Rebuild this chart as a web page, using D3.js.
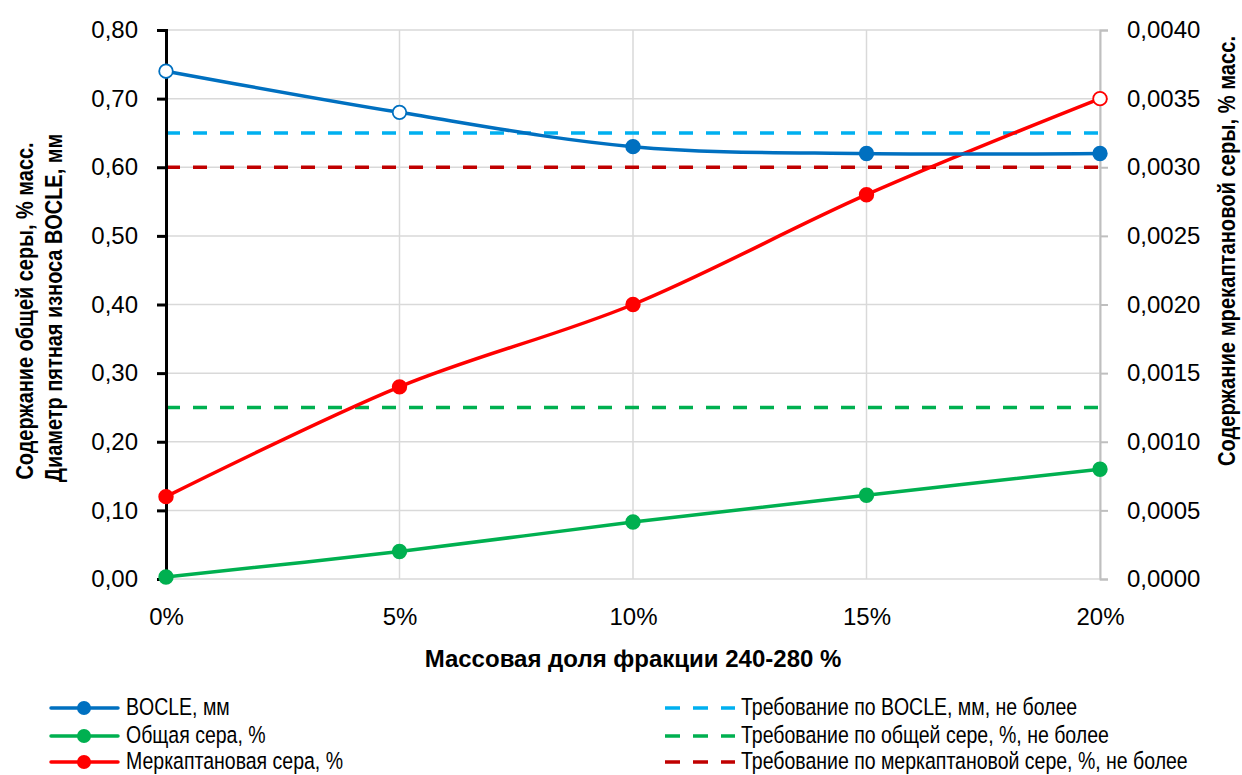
<!DOCTYPE html>
<html><head><meta charset="utf-8">
<script src="https://cdn.jsdelivr.net/npm/d3@7"></script>
<style>
html,body{margin:0;padding:0;background:#fff;}
svg{display:block;font-family:"Liberation Sans",Arial,sans-serif;}
</style></head><body>
<svg id="c" width="1242" height="775"></svg>
<script>
const categories = ["0%","5%","10%","15%","20%"];
const bocle = [0.74, 0.68, 0.63, 0.62, 0.62];
const totalSulfur = [0.003, 0.04, 0.083, 0.122, 0.16];
const mercaptanSulfur = [0.0006, 0.0014, 0.0020, 0.0028, 0.0035];
const bocleHollow = [true, true, false, false, false];
const mercHollow = [false, false, false, false, true];
const sulfurHollow = [false, false, false, false, false];
const reqBocle = 0.65, reqTotal = 0.25, reqMerc = 0.003;
const leftTicks = [0,0.1,0.2,0.3,0.4,0.5,0.6,0.7,0.8];
const rightTicks = [0,0.0005,0.001,0.0015,0.002,0.0025,0.003,0.0035,0.004];

const svg = d3.select("#c");
const L = 166, R = 1100, T = 30, B = 579;
const x = d3.scalePoint().domain(categories).range([L, R]);
const yL = d3.scaleLinear().domain([0, 0.8]).range([B, T]);
const yR = d3.scaleLinear().domain([0, 0.004]).range([B, T]);
const fmtL = v => d3.format(".2f")(v).replace(".", ",");
const fmtR = v => d3.format(".4f")(v).replace(".", ",");

// grid
const g = svg.append("g");
g.selectAll("line.h").data(leftTicks).join("line")
  .attr("x1", L).attr("x2", R).attr("y1", d => yL(d)).attr("y2", d => yL(d))
  .attr("stroke", "#d9d9d9").attr("stroke-width", 1.5);
g.selectAll("line.v").data(categories).join("line")
  .attr("x1", d => x(d)).attr("x2", d => x(d)).attr("y1", T).attr("y2", B)
  .attr("stroke", "#d9d9d9").attr("stroke-width", 1.5);

// right axis
const ra = svg.append("g").attr("transform", `translate(${R},0)`)
  .call(d3.axisRight(yR).tickValues(rightTicks).tickFormat(fmtR).tickSize(8).tickPadding(19));
ra.select(".domain").attr("stroke", "#bfbfbf").attr("stroke-width", 2);
ra.selectAll(".tick line").attr("stroke", "#bfbfbf").attr("stroke-width", 2);
ra.selectAll("text").attr("font-size", 24).attr("fill", "#000").attr("font-family", "inherit");

// x axis labels
const xa = svg.append("g").attr("transform", `translate(0,${B})`)
  .call(d3.axisBottom(x).tickSize(0).tickPadding(29));
xa.select(".domain").remove();
xa.selectAll("text").attr("font-size", 24).attr("fill", "#000").attr("font-family", "inherit");

// reference lines
const refs = [
  {v: yL(reqBocle), c: "#00b0f0"},
  {v: yL(reqTotal), c: "#00b050"},
  {v: yR(reqMerc), c: "#c00000"}
];
svg.append("g").selectAll("line").data(refs).join("line")
  .attr("x1", L).attr("x2", R).attr("y1", d => d.v).attr("y2", d => d.v)
  .attr("stroke", d => d.c).attr("stroke-width", 3.5)
  .attr("stroke-dasharray", "14,13");

// left axis
const la = svg.append("g").attr("transform", `translate(${L},0)`)
  .call(d3.axisLeft(yL).tickValues(leftTicks).tickFormat(fmtL).tickSize(9).tickPadding(19));
la.select(".domain").attr("stroke", "#000").attr("stroke-width", 3);
la.selectAll(".tick line").attr("stroke", "#000").attr("stroke-width", 3);
la.selectAll("text").attr("font-size", 24).attr("fill", "#000").attr("font-family", "inherit");

// series
const series = [
  {vals: totalSulfur, y: yL, c: "#00b050", hollow: sulfurHollow},
  {vals: mercaptanSulfur, y: yR, c: "#ff0000", hollow: mercHollow},
  {vals: bocle, y: yL, c: "#0070c0", hollow: bocleHollow}
];
const line = d3.line().curve(d3.curveCatmullRom.alpha(0));
series.forEach(s => {
  const pts = s.vals.map((v, i) => [x(categories[i]), s.y(v)]);
  svg.append("path").attr("d", line(pts)).attr("fill", "none")
    .attr("stroke", s.c).attr("stroke-width", 3.5);
  svg.append("g").selectAll("circle").data(pts).join("circle")
    .attr("cx", d => d[0]).attr("cy", d => d[1]).attr("r", 6.8)
    .attr("fill", (d, i) => s.hollow[i] ? "#fff" : s.c)
    .attr("stroke", s.c).attr("stroke-width", 1.8);
});

// axis titles
svg.append("text").attr("x", 633).attr("y", 667).attr("text-anchor", "middle")
  .attr("font-size", 24).attr("font-weight", "bold").text("Массовая доля фракции 240-280 %");
svg.append("text").attr("transform", "translate(33,311) rotate(-90) scale(0.83,1)").attr("text-anchor", "middle")
  .attr("font-size", 24).attr("font-weight", "bold").text("Содержание общей серы, % масс.");
svg.append("text").attr("transform", "translate(62,308) rotate(-90) scale(0.83,1)").attr("text-anchor", "middle")
  .attr("font-size", 24).attr("font-weight", "bold").text("Диаметр пятная износа BOCLE, мм");
svg.append("text").attr("transform", "translate(1235,251) rotate(-90) scale(0.84,1)").attr("text-anchor", "middle")
  .attr("font-size", 24).attr("font-weight", "bold").text("Содержание мрекаптановой серы, % масс.");

// legend
const legLeft = [
  {t: "BOCLE, мм", c: "#0070c0"},
  {t: "Общая сера, %", c: "#00b050"},
  {t: "Меркаптановая сера, %", c: "#ff0000"}
];
const legRight = [
  {t: "Требование по BOCLE, мм, не более", c: "#00b0f0"},
  {t: "Требование по общей сере, %, не более", c: "#00b050"},
  {t: "Требование по меркаптановой сере, %, не более", c: "#c00000"}
];
const rowsY = [708, 736, 762];
legLeft.forEach((d, i) => {
  const gg = svg.append("g");
  gg.append("line").attr("x1", 51).attr("x2", 118).attr("y1", rowsY[i]).attr("y2", rowsY[i])
    .attr("stroke", d.c).attr("stroke-width", 3.5).attr("stroke-linecap", "round");
  gg.append("circle").attr("cx", 84).attr("cy", rowsY[i]).attr("r", 7).attr("fill", d.c);
  gg.append("text").attr("transform", `translate(126,${rowsY[i] + 7}) scale(0.83,1)`)
    .attr("font-size", 23.5).text(d.t);
});
legRight.forEach((d, i) => {
  const gg = svg.append("g");
  gg.append("line").attr("x1", 665).attr("x2", 735).attr("y1", rowsY[i]).attr("y2", rowsY[i])
    .attr("stroke", d.c).attr("stroke-width", 3.5)
    .attr("stroke-dasharray", "15,13");
  gg.append("text").attr("transform", `translate(741,${rowsY[i] + 7}) scale(0.83,1)`)
    .attr("font-size", 23.5).text(d.t);
});
</script>
</body></html>
